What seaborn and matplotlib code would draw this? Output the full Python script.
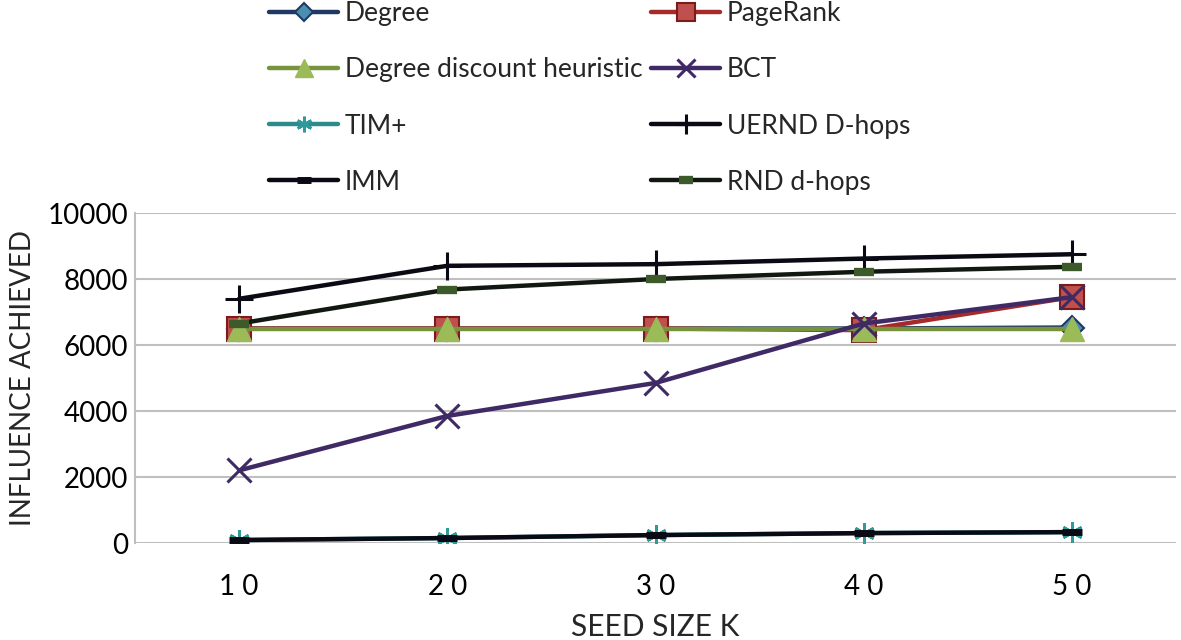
import matplotlib
matplotlib.use("Agg")
import matplotlib.pyplot as plt
import seaborn as sns
import pandas as pd

sns.set_theme(style="white")
plt.rcParams['font.family'] = ['Lato', 'DejaVu Sans']

seed_sizes = [10, 20, 30, 40, 50]
tick_labels = ["1 0", "2 0", "3 0", "4 0", "5 0"]
degree = [6500, 6500, 6500, 6500, 6530]
pagerank = [6500, 6500, 6500, 6450, 7450]
degree_discount = [6500, 6500, 6500, 6500, 6500]
bct = [2200, 3850, 4850, 6650, 7450]
tim_plus = [90, 150, 240, 300, 330]
uernd = [7400, 8400, 8450, 8620, 8750]
imm = [90, 150, 240, 300, 330]
rnd = [6650, 7680, 8000, 8220, 8370]

series_names = ["Degree", "PageRank", "Degree discount heuristic", "BCT",
                "TIM+", "UERND D-hops", "IMM", "RND d-hops"]
series_values = [degree, pagerank, degree_discount, bct, tim_plus, uernd, imm, rnd]

styles = {
    "Degree": dict(color="#1F3864", marker="D", mfc="#4A8FB0", mec="#1F3864", ms=12, mew=1.5),
    "PageRank": dict(color="#A52A2A", marker="s", mfc="#C0504D", mec="#7B1C1C", ms=17, mew=1.5),
    "Degree discount heuristic": dict(color="#77933C", marker="^", mfc="#9BBB59", mec="#9BBB59", ms=17, mew=1.0),
    "BCT": dict(color="#3F2A66", marker="x", mfc="#3F2A66", mec="#3F2A66", ms=17, mew=2.2),
    "TIM+": dict(color="#2E8B8B", marker=(6, 2, 0), mfc="#2E9A9A", mec="#2E9A9A", ms=15, mew=2.0),
    "UERND D-hops": dict(color="#0A0A14", marker="+", mfc="#0A0A14", mec="#0A0A14", ms=20, mew=2.2),
    "IMM": dict(color="#0A0A14", marker="_", mfc="#0A0A14", mec="#0A0A14", ms=14, mew=5),
    "RND d-hops": dict(color="#111811", marker="_", mfc="#3C5A2A", mec="#3C5A2A", ms=14, mew=6),
}

rows = []
for name, vals in zip(series_names, series_values):
    for k, v in zip(seed_sizes, vals):
        rows.append({"Seed size": k, "Influence": v, "Method": name})
df = pd.DataFrame(rows)

fig = plt.figure(figsize=(11.81, 6.40), dpi=100)
ax = fig.add_axes([135 / 1181, 1 - 543 / 640, (1176 - 135) / 1181, (543 - 213) / 640])

for name in series_names:
    st = styles[name]
    sns.lineplot(data=df[df["Method"] == name], x="Seed size", y="Influence",
                 ax=ax, label=name, color=st["color"], linewidth=3.2,
                 marker=st["marker"], markersize=st["ms"],
                 markerfacecolor=st["mfc"], markeredgecolor=st["mec"],
                 markeredgewidth=st["mew"], legend=False)

ax.set_xlim(5, 55)
ax.set_ylim(0, 10000)
ax.set_yticks([0, 2000, 4000, 6000, 8000, 10000])
ax.set_xticks(seed_sizes)
ax.set_xticklabels(tick_labels)
ax.yaxis.grid(True, color="#BFBFBF", linewidth=1.5)
ax.xaxis.grid(False)
for s in ["top", "right", "bottom"]:
    ax.spines[s].set_visible(False)
ax.spines["left"].set_color("#BFBFBF")
ax.spines["left"].set_linewidth(1.5)
ax.tick_params(axis="y", labelsize=20, colors="black", length=0, pad=5)
ax.tick_params(axis="x", labelsize=20, colors="black", length=0, pad=22)
ax.set_xlabel("SEED SIZE K", fontsize=21.5, labelpad=10)
ax.set_ylabel("INFLUENCE ACHIEVED", fontsize=20, labelpad=8)

handles, labels = ax.get_legend_handles_labels()
order = [0, 2, 4, 6, 1, 3, 5, 7]
fig.legend([handles[i] for i in order], [labels[i] for i in order], ncol=2, loc="upper left",
           bbox_to_anchor=(268 / 1181, 1.0), frameon=False, fontsize=19,
           handlelength=2.6, handletextpad=0.25, columnspacing=0.35,
           labelspacing=1.18, borderaxespad=0.0, borderpad=0.05, markerscale=0.75)

fig.savefig("out.png", dpi=100)
